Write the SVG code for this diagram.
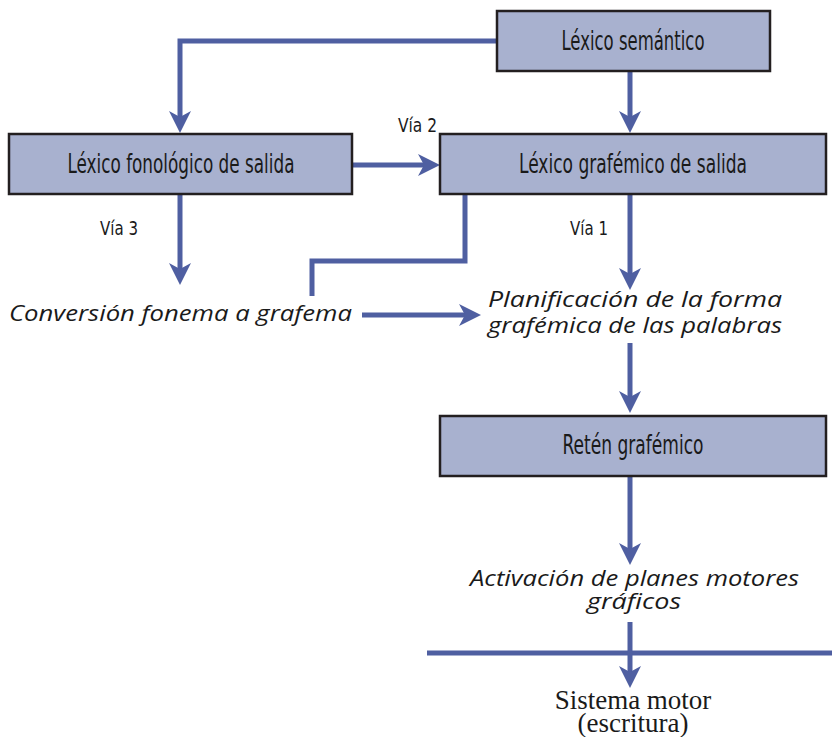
<svg xmlns="http://www.w3.org/2000/svg" width="832" height="737" viewBox="0 0 832 737">
  <style>
    .box { fill: #a8b1cf; stroke: #231f20; stroke-width: 2.5; }
    .boxtxt { font-family: "Liberation Sans Narrow", "DejaVu Sans Condensed", "Liberation Sans", sans-serif; font-stretch: condensed; font-size: 26px; fill: #1a1a1a; text-anchor: middle; }
    .via { font-family: "Liberation Sans Narrow", "DejaVu Sans Condensed", "Liberation Sans", sans-serif; font-stretch: condensed; font-size: 20px; fill: #1a1a1a; }
    .ital { font-family: "Open Sans", "DejaVu Sans", sans-serif; font-style: italic; font-size: 21px; fill: #1a1a1a; }
    .serif { font-family: "Liberation Serif", "DejaVu Serif", serif; font-size: 27px; fill: #1a1a1a; text-anchor: middle; }
    .conn { fill: none; stroke: #4f5fa1; stroke-width: 5; }
  </style>
  <defs>
    <marker id="head" markerUnits="userSpaceOnUse" viewBox="-10 -12 26 24" markerWidth="26" markerHeight="24" refX="0" refY="0" orient="auto" overflow="visible">
      <path d="M14,0 L-8,-11 L-2,0 L-8,11 Z" fill="#4f5fa1"/>
    </marker>
  </defs>

  <!-- connectors -->
  <g id="connectors">
    <polyline class="conn" points="497,41 180,41 180,119" marker-end="url(#head)"/>
    <line class="conn" x1="630" y1="72" x2="630" y2="119" marker-end="url(#head)"/>
    <line class="conn" x1="353" y1="165" x2="426" y2="165" marker-end="url(#head)"/>
    <line class="conn" x1="180" y1="195" x2="180" y2="271" marker-end="url(#head)"/>
    <polyline class="conn" points="465,195 465,261 312,261 312,296"/>
    <line class="conn" x1="630" y1="195" x2="630" y2="276" marker-end="url(#head)"/>
    <line class="conn" x1="362" y1="315" x2="467" y2="315" marker-end="url(#head)"/>
    <line class="conn" x1="630" y1="343" x2="630" y2="399" marker-end="url(#head)"/>
    <line class="conn" x1="630" y1="477" x2="630" y2="551" marker-end="url(#head)"/>
    <line class="conn" x1="427" y1="653" x2="832" y2="653"/>
    <line class="conn" x1="630" y1="622" x2="630" y2="674" marker-end="url(#head)"/>
  </g>

  <g id="lexico-semantico">
    <rect class="box" x="497" y="11" width="273" height="60"/>
    <text class="boxtxt" x="633" y="50" textLength="143" lengthAdjust="spacingAndGlyphs">Léxico semántico</text>
  </g>

  <g id="lexico-fonologico">
    <rect class="box" x="9" y="134" width="343" height="60"/>
    <text class="boxtxt" x="181" y="173" textLength="227" lengthAdjust="spacingAndGlyphs">Léxico fonológico de salida</text>
  </g>

  <g id="lexico-grafemico">
    <rect class="box" x="440" y="134" width="386" height="60"/>
    <text class="boxtxt" x="633" y="173" textLength="228" lengthAdjust="spacingAndGlyphs">Léxico grafémico de salida</text>
  </g>

  <g id="labels-via">
    <text class="via" x="398" y="132" textLength="39" lengthAdjust="spacingAndGlyphs">Vía 2</text>
    <text class="via" x="100" y="235" textLength="38" lengthAdjust="spacingAndGlyphs">Vía 3</text>
    <text class="via" x="570" y="235" textLength="38" lengthAdjust="spacingAndGlyphs">Vía 1</text>
  </g>

  <g id="conversion">
    <text class="ital" x="9" y="321" textLength="343" lengthAdjust="spacingAndGlyphs">Conversión fonema a grafema</text>
  </g>

  <g id="planificacion">
    <text class="ital" x="488" y="307" textLength="294" lengthAdjust="spacingAndGlyphs">Planificación de la forma</text>
    <text class="ital" x="488" y="333" textLength="294" lengthAdjust="spacingAndGlyphs">grafémica de las palabras</text>
  </g>

  <g id="reten-grafemico">
    <rect class="box" x="440" y="416" width="386" height="60"/>
    <text class="boxtxt" x="633" y="454" textLength="141" lengthAdjust="spacingAndGlyphs">Retén grafémico</text>
  </g>

  <g id="activacion">
    <text class="ital" x="470" y="586" textLength="329" lengthAdjust="spacingAndGlyphs">Activación de planes motores</text>
    <text class="ital" x="587" y="609" textLength="94" lengthAdjust="spacingAndGlyphs">gráficos</text>
  </g>

  <g id="sistema-motor">
    <text class="serif" x="633" y="709">Sistema motor</text>
    <text class="serif" x="633" y="732">(escritura)</text>
  </g>
</svg>
